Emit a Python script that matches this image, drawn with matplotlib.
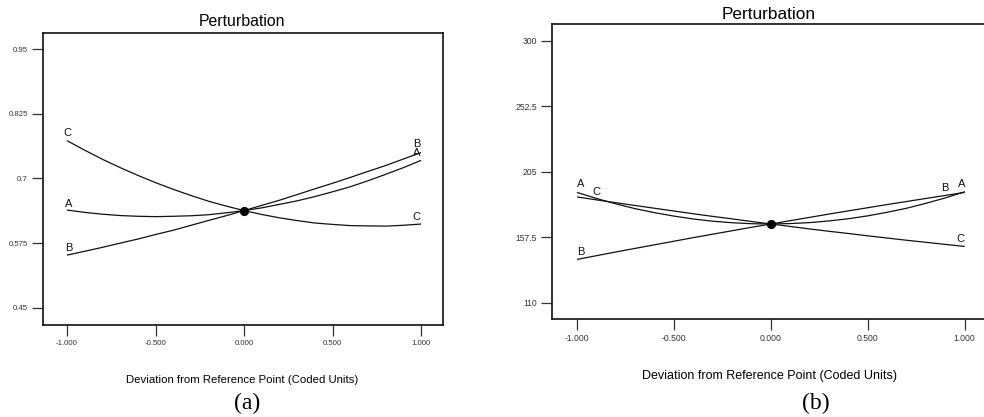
import matplotlib
matplotlib.use("Agg")
import matplotlib.pyplot as plt

plt.rcParams["font.family"] = ["Liberation Sans", "DejaVu Sans"]

# coded deviation from reference point
x = [-1.0, -0.9, -0.8, -0.7, -0.6, -0.5, -0.4, -0.3, -0.2, -0.1, 0.0,
     0.1, 0.2, 0.3, 0.4, 0.5, 0.6, 0.7, 0.8, 0.9, 1.0]

# panel (a) responses
a_A = [0.639, 0.6345, 0.631, 0.6284, 0.627, 0.6263, 0.627, 0.628, 0.630, 0.6337, 0.638,
       0.6433, 0.650, 0.6568, 0.665, 0.6743, 0.684, 0.6956, 0.708, 0.7209, 0.735]
a_B = [0.552, 0.5594, 0.567, 0.5751, 0.583, 0.5918, 0.600, 0.6095, 0.619, 0.6282, 0.638,
       0.648, 0.658, 0.6689, 0.680, 0.6908, 0.702, 0.7137, 0.725, 0.7376, 0.750]
a_C = [0.773, 0.7546, 0.737, 0.721, 0.706, 0.6919, 0.679, 0.6671, 0.656, 0.6466, 0.638,
       0.6305, 0.624, 0.6187, 0.614, 0.6113, 0.609, 0.6084, 0.608, 0.6096, 0.612]
a_yticks = [0.45, 0.575, 0.7, 0.825, 0.95]
a_ylabels = ["0.45", "0.575", "0.7", "0.825", "0.95"]

# panel (b) responses
b_A = [190.0, 185.6, 181.7, 178.2, 175.3, 172.8, 170.7, 169.1, 168.0, 167.3, 167.1,
       167.4, 168.1, 169.3, 170.9, 173.0, 175.6, 178.5, 182.1, 186.0, 190.5]
b_B = [141.4, 144.1, 146.8, 149.4, 152.0, 154.6, 157.2, 159.7, 162.2, 164.7, 167.1,
       169.5, 171.9, 174.3, 176.6, 178.9, 181.2, 183.4, 185.6, 187.8, 190.0]
b_C = [186.7, 184.6, 182.5, 180.5, 178.5, 176.5, 174.5, 172.6, 170.8, 168.9, 167.1,
       165.3, 163.5, 161.8, 160.2, 158.5, 156.9, 155.3, 153.8, 152.3, 150.8]
b_yticks = [110, 157.5, 205, 252.5, 300]
b_ylabels = ["110", "157.5", "205", "252.5", "300"]

xticks = [-1.0, -0.5, 0.0, 0.5, 1.0]
xlabels = ["-1.000", "-0.500", "0.000", "0.500", "1.000"]

W, H = 984, 417
fig = plt.figure(figsize=(W / 100, H / 100), dpi=100)


def px_axes(left, top, right, bottom):
    return fig.add_axes([left / W, 1 - bottom / H, (right - left) / W, (bottom - top) / H])


def style(ax, xlim, ylim, yticks, ylabels, fs):
    ax.set_xlim(*xlim)
    ax.set_ylim(*ylim)
    ax.set_xticks(xticks)
    ax.set_xticklabels(xlabels)
    ax.set_yticks(yticks)
    ax.set_yticklabels(ylabels)
    ax.tick_params(direction="out", length=8, width=0.9, labelsize=fs,
                   labelcolor="#333333", color="#333333", top=False, right=False)
    ax.tick_params(axis="y", pad=3)
    ax.tick_params(axis="x", pad=2.5)
    for s in ax.spines.values():
        s.set_linewidth(1.2)
        s.set_color("#111111")


def draw(ax, series, labels):
    for ys in series:
        ax.plot(x, ys, color="#111111", lw=0.9, solid_capstyle="butt")
    ax.plot([0], [series[0][10]], "o", color="black", ms=5.6)
    for name, xi, yi, dx, dy in labels:
        ax.annotate(name, (xi, yi), xytext=(dx, dy), textcoords="offset pixels",
                    ha="center", va="center", fontsize=8, color="#111111")


# ---- panel (a)
ax1 = px_axes(43, 33, 443, 325)
style(ax1, (-1.136, 1.124), (0.417, 0.981), a_yticks, a_ylabels, 5.6)
draw(ax1, [a_A, a_B, a_C], [
    ("C", -1, a_C[0], 0, 7.5),
    ("A", -1, a_A[0], 2, 6),
    ("B", -1, a_B[0], 2, 7),
    ("B", 1, a_B[-1], -4, 9),
    ("A", 1, a_A[-1], -4, 7),
    ("C", 1, a_C[-1], -5, 7),
])
fig.text(242 / W, 1 - 22 / H, "Perturbation", ha="center", va="center", fontsize=11.4)
fig.text(242 / W, 1 - 380 / H, "Deviation from Reference Point (Coded Units)",
         ha="center", va="center", fontsize=8.2)
fig.text(247 / W, 1 - 403 / H, "(a)", ha="center", va="center", fontsize=17,
         family="Liberation Serif")

# ---- panel (b)
ax2 = px_axes(552, 24, 988, 319)
style(ax2, (-1.129, 1.12), (98.2, 312.1), b_yticks, b_ylabels, 6.2)
draw(ax2, [b_A, b_B, b_C], [
    ("A", -1, b_A[0], 4, 8),
    ("C", -1, b_C[0], 19, 4.6),
    ("B", -1, b_B[0], 4, 7.4),
    ("B", 1, b_B[-1], -20, 4.4),
    ("A", 1, b_A[-1], -3, 8),
    ("C", 1, b_C[-1], -4, 7.4),
])
fig.text(769 / W, 1 - 14.3 / H, "Perturbation", ha="center", va="center", fontsize=12.4)
fig.text(769 / W, 1 - 375.7 / H, "Deviation from Reference Point (Coded Units)",
         ha="center", va="center", fontsize=9)
fig.text(815.7 / W, 1 - 403 / H, "(b)", ha="center", va="center", fontsize=17,
         family="Liberation Serif")

fig.savefig("out.png", dpi=100)
